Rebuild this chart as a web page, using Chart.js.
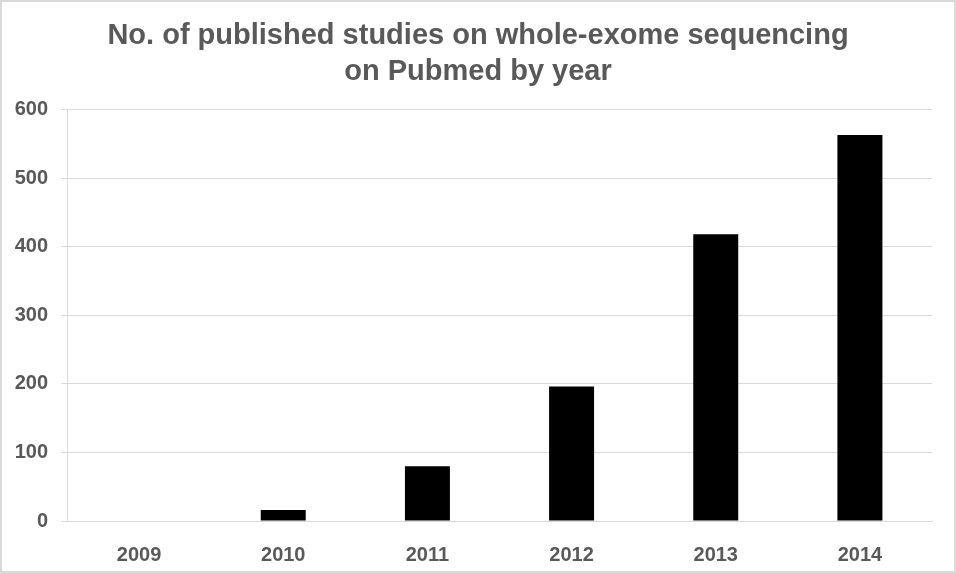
<!DOCTYPE html>
<html lang="en">
<head>
    <meta charset="UTF-8">
    <title>Whole-exome sequencing studies on Pubmed</title>
    <script src="https://cdn.jsdelivr.net/npm/chart.js@4"></script>
    <style>
        body { margin: 0; background: #fff; }
        #wrap { position: relative; width: 956px; height: 573px; }
    </style>
</head>
<body>
    <div id="wrap">
        <canvas id="studiesChart"></canvas>
    </div>

    <script>
        // Data
        const years = ['2009', '2010', '2011', '2012', '2013', '2014'];
        const studies = [0, 16, 80, 196, 418, 563];
        const yTicks = [0, 100, 200, 300, 400, 500, 600];

        const grey = '#595959';
        const lineGrey = '#d9d9d9';
        const font = 'Liberation Sans, Arial, sans-serif';

        // white background + thin frame round the picture
        const framePlugin = {
            id: 'frame',
            beforeDraw(chart) {
                const ctx = chart.ctx;
                ctx.save();
                ctx.fillStyle = '#fff';
                ctx.fillRect(0, 0, chart.width, chart.height);
                ctx.strokeStyle = lineGrey;
                ctx.lineWidth = 2;
                ctx.strokeRect(1, 1, chart.width - 2, chart.height - 2);
                ctx.restore();
            }
        };

        new Chart(document.getElementById('studiesChart'), {
            type: 'bar',
            data: {
                labels: years,
                datasets: [{
                    label: 'Studies',
                    data: studies,
                    backgroundColor: '#000',
                    categoryPercentage: 1,
                    barPercentage: 0.312
                }]
            },
            options: {
                responsive: true,
                maintainAspectRatio: false,
                animation: false,
                layout: { padding: 0 },
                plugins: {
                    legend: { display: false },
                    tooltip: { enabled: false },
                    title: {
                        display: true,
                        text: ['No. of published studies on whole-exome sequencing', 'on Pubmed by year'],
                        color: grey,
                        font: { family: font, size: 29, weight: 'bold', lineHeight: 1.25 },
                        padding: { top: 18, bottom: 19 }
                    }
                },
                scales: {
                    x: {
                        grid: { display: false },
                        border: { display: true, color: lineGrey },
                        ticks: {
                            color: grey,
                            padding: 14,
                            font: { family: font, size: 20, weight: 'bold' }
                        },
                        afterFit(scale) { scale.height = 52; }
                    },
                    y: {
                        min: 0,
                        max: 600,
                        afterBuildTicks(scale) {
                            scale.ticks = yTicks.map(v => ({ value: v }));
                        },
                        grid: { color: lineGrey, tickLength: 6, drawTicks: true },
                        border: { display: true, color: lineGrey },
                        ticks: {
                            color: grey,
                            padding: 13,
                            font: { family: font, size: 20, weight: 'bold' }
                        },
                        afterFit(scale) { scale.width = 67; }
                    },
                    // empty right margin so the title stays centred on the whole picture
                    rightGap: {
                        type: 'linear',
                        position: 'right',
                        grid: { display: false },
                        border: { display: false },
                        ticks: { display: false },
                        afterFit(scale) { scale.width = 24; }
                    }
                }
            },
            plugins: [framePlugin]
        });
    </script>
</body>
</html>
